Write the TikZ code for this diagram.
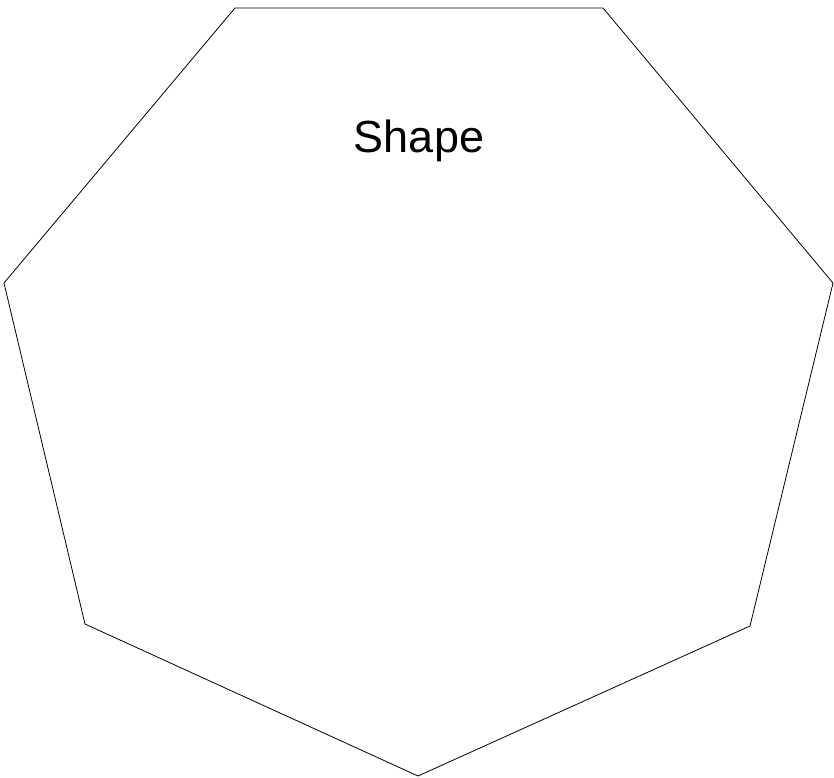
\documentclass[tikz,border=0pt]{standalone}
\usepackage{fontspec}
\setmainfont{Liberation Sans}
\usetikzlibrary{positioning}
\tikzset{
    every picture/.style={line join=miter},
    outline/.style={draw=black,line width=0.8pt},
    shapelabel/.style={font=\fontsize{45}{52}\selectfont,inner sep=0pt,anchor=base}
}
\begin{document}
\begin{tikzpicture}[x=1pt,y=-1pt]
  \useasboundingbox (0,0) rectangle (834,777);
  \foreach \x/\y [count=\i] in {235/8,603/8,833/283,750/626,418/776,85/624,4/283}{
    \coordinate (v\i) at (\x,\y);}
  \draw[outline] (v1)--(v2)--(v3)--(v4)--(v5)--(v6)--(v7)--cycle;
  \node[shapelabel] (title) at (419,152) {Shape};
\end{tikzpicture}
\end{document}
